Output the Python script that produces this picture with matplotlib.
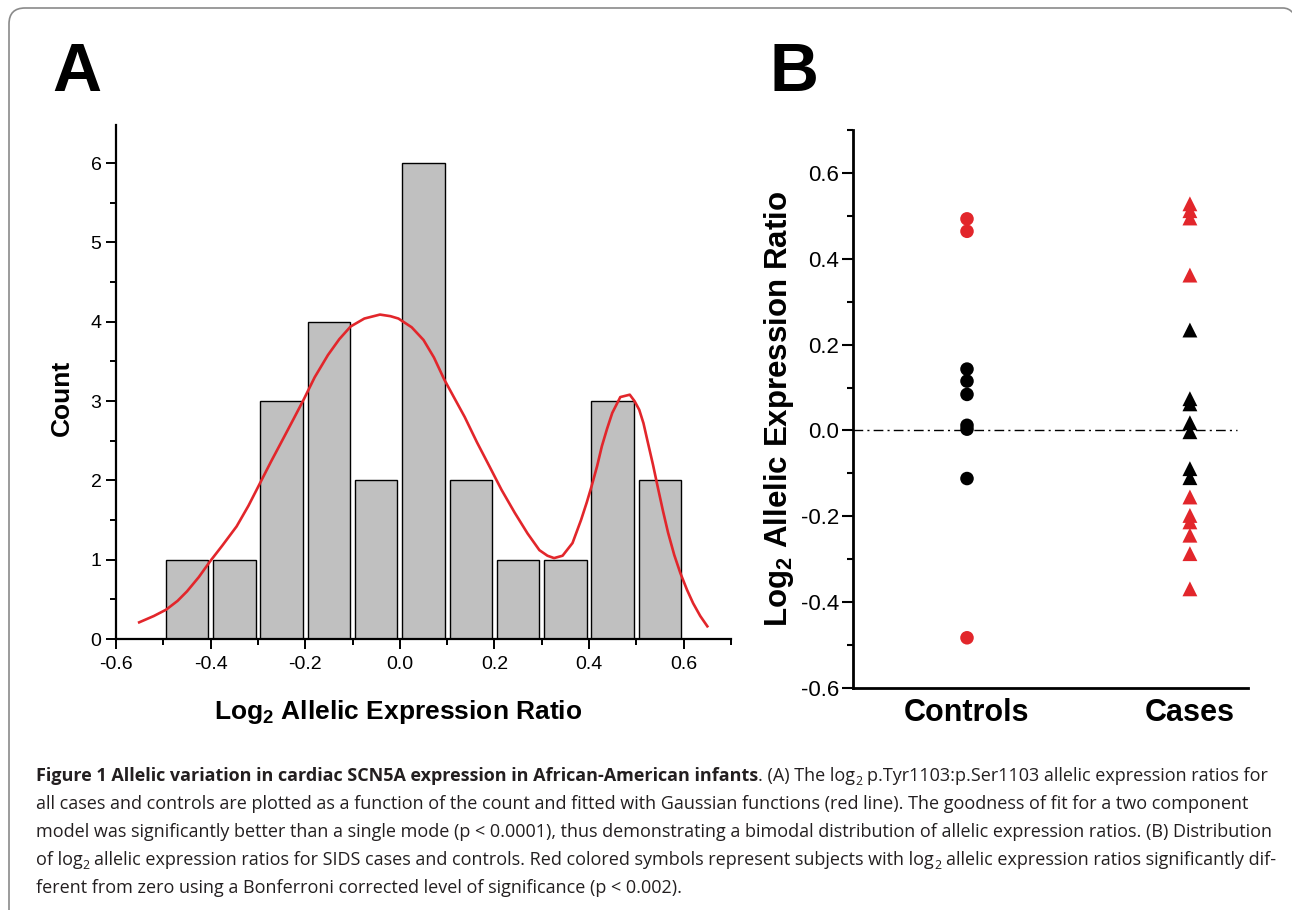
import matplotlib
matplotlib.use('Agg')
import matplotlib.pyplot as plt
from matplotlib.path import Path
from matplotlib.patches import PathPatch
from matplotlib.ticker import FixedLocator, FormatStrFormatter

plt.rcParams['font.family'] = ['Liberation Sans', 'DejaVu Sans']
plt.rcParams['axes.unicode_minus'] = False
plt.rcParams['mathtext.fontset'] = 'custom'
plt.rcParams['mathtext.rm'] = 'Liberation Sans'
plt.rcParams['mathtext.bf'] = 'Liberation Sans:bold'

# ---------------- Panel A data ----------------
bin_centers = [-0.45, -0.35, -0.25, -0.15, -0.05, 0.05, 0.15, 0.25, 0.35, 0.45, 0.55]
bin_counts = [1, 1, 3, 4, 2, 6, 2, 1, 1, 3, 2]
fit_x = [-0.551, -0.520, -0.494, -0.470, -0.450, -0.425, -0.401, -0.375, -0.345, -0.320,
         -0.296, -0.272, -0.248, -0.225, -0.204, -0.180, -0.152, -0.128, -0.104, -0.075,
         -0.042, -0.020, -0.003, 0.025, 0.050, 0.072, 0.094, 0.115, 0.137, 0.163,
         0.190, 0.215, 0.243, 0.270, 0.295, 0.312, 0.326, 0.344, 0.365, 0.383,
         0.395, 0.405, 0.417, 0.427, 0.438, 0.449, 0.466, 0.486, 0.496, 0.506,
         0.515, 0.523, 0.535, 0.545, 0.556, 0.567, 0.580, 0.593, 0.607, 0.620,
         0.635, 0.650]
fit_y = [0.21, 0.29, 0.37, 0.48, 0.60, 0.78, 0.98, 1.18, 1.42, 1.68,
         1.96, 2.24, 2.51, 2.77, 3.01, 3.30, 3.58, 3.78, 3.94, 4.04,
         4.09, 4.07, 4.04, 3.93, 3.77, 3.55, 3.27, 3.04, 2.80, 2.48,
         2.17, 1.88, 1.59, 1.33, 1.12, 1.05, 1.02, 1.05, 1.21, 1.50,
         1.72, 1.92, 2.18, 2.43, 2.65, 2.85, 3.05, 3.08, 3.00, 2.89,
         2.72, 2.51, 2.20, 1.92, 1.62, 1.34, 1.06, 0.83, 0.62, 0.45,
         0.29, 0.16]
a_xticks = [-0.6, -0.4, -0.2, 0.0, 0.2, 0.4, 0.6]
a_yticks = [0, 1, 2, 3, 4, 5, 6]

# ---------------- Panel B data ----------------
group_names = ['Controls', 'Cases']
controls_sig = [0.493, 0.464, -0.483]
controls_ns = [0.143, 0.115, 0.084, 0.012, 0.003, -0.112]
cases_sig = [0.528, 0.512, 0.495, 0.362, -0.155, -0.198, -0.213, -0.244, -0.287, -0.369]
cases_ns = [0.234, 0.074, 0.062, 0.018, -0.003, -0.089, -0.110]
b_yticks = [-0.6, -0.4, -0.2, 0.0, 0.2, 0.4, 0.6]

RED = '#e2262b'
W, H = 1292, 910
fig = plt.figure(figsize=(W / 100, H / 100), dpi=100)
fig.patch.set_facecolor('white')


def px_rect(left, top, right, bottom):
    return [left / W, 1 - bottom / H, (right - left) / W, (bottom - top) / H]


# ---------------- Panel A ----------------
axA = fig.add_axes(px_rect(116, 125, 731, 639))
axA.bar(bin_centers, bin_counts, width=0.09, color='#c0c0c0', edgecolor='black',
        linewidth=1.0, zorder=2)
axA.plot(fit_x, fit_y, color=RED, lw=1.9, zorder=3, solid_joinstyle='round')
axA.set_xlim(-0.6, 0.7)
axA.set_ylim(0, 6.48)
for s in ['top', 'right']:
    axA.spines[s].set_visible(False)
for s in ['left', 'bottom']:
    axA.spines[s].set_linewidth(1.6)
axA.set_xticks(a_xticks)
axA.xaxis.set_major_formatter(FormatStrFormatter('%.1f'))
axA.xaxis.set_minor_locator(FixedLocator([-0.5, -0.3, -0.1, 0.1, 0.3, 0.5, 0.7]))
axA.set_yticks(a_yticks)
axA.yaxis.set_minor_locator(FixedLocator([0.5, 1.5, 2.5, 3.5, 4.5, 5.5]))
axA.tick_params(axis='both', which='major', direction='out', length=7, width=1.4,
                labelsize=14)
axA.tick_params(axis='both', which='minor', direction='out', length=4, width=1.4)
axA.tick_params(axis='x', which='major', pad=5)
axA.tick_params(axis='y', which='major', pad=3.5)
axA.set_xlabel(r'Log$_\mathbf{2}$ Allelic Expression Ratio', fontsize=19,
               fontweight='bold', va='center')
axA.xaxis.set_label_coords(0.4585, -0.142)
axA.set_ylabel('Count', fontsize=19, fontweight='bold', va='center')
axA.yaxis.set_label_coords(-0.088, 0.469)

# ---------------- Panel B ----------------
axB = fig.add_axes(px_rect(853, 130, 1248, 688))
pos = [1, 2]
axB.scatter([pos[0]] * len(controls_ns), controls_ns, marker='o', s=95, color='black',
            edgecolors='none', zorder=3)
axB.scatter([pos[0]] * len(controls_sig), controls_sig, marker='o', s=95, color=RED,
            edgecolors='none', zorder=3)
axB.scatter([pos[1]] * len(cases_ns), cases_ns, marker='^', s=115, color='black',
            edgecolors='none', zorder=3)
axB.scatter([pos[1]] * len(cases_sig), cases_sig, marker='^', s=115, color=RED,
            edgecolors='none', zorder=3)
axB.axhline(0, xmin=0, xmax=0.972, color='black', lw=1.0, ls=(0, (7, 3, 1.5, 3)), zorder=1)
axB.set_xlim(0.4886, 2.2606)
axB.set_ylim(-0.6, 0.7)
for s in ['top', 'right']:
    axB.spines[s].set_visible(False)
for s in ['left', 'bottom']:
    axB.spines[s].set_linewidth(2.0)
axB.set_xticks(pos)
axB.set_xticklabels(group_names, fontsize=22, fontweight='bold')
axB.tick_params(axis='x', which='both', length=0, pad=7)
axB.set_yticks(b_yticks)
axB.yaxis.set_major_formatter(FormatStrFormatter('%.1f'))
axB.yaxis.set_minor_locator(FixedLocator([-0.5, -0.3, -0.1, 0.1, 0.3, 0.5, 0.7]))
axB.tick_params(axis='y', which='major', direction='out', length=8, width=1.5,
                labelsize=16, pad=2)
axB.tick_params(axis='y', which='minor', direction='out', length=4, width=1.5)
axB.set_ylabel(r'Log$_\mathbf{2}$ Allelic Expression Ratio', fontsize=22.5,
               fontweight='bold', va='center')
axB.yaxis.set_label_coords(-0.187, 0.5)

# ---------------- Panel letters ----------------
fig.text(52 / W, 1 - 91 / H, 'A', fontsize=49, fontweight='bold', ha='left', va='baseline')
fig.text(770 / W, 1 - 91 / H, 'B', fontsize=49, fontweight='bold', ha='left', va='baseline')

# ---------------- Frame ----------------
frame_pts = [(9, 912), (9, 24), (9, 8), (25, 8), (1283, 8), (1289, 8), (1293, 13)]
frame_codes = [Path.MOVETO, Path.LINETO, Path.CURVE3, Path.CURVE3, Path.LINETO,
               Path.CURVE3, Path.CURVE3]
fp = Path([(x / W, 1 - y / H) for x, y in frame_pts], frame_codes)
fig.patches.append(PathPatch(fp, transform=fig.transFigure, fill=False,
                             edgecolor='#8a8a8a', lw=1.2))

# ---------------- Caption ----------------
CAP_FONT = ['Open Sans', 'DejaVu Sans']
CAP_COLOR = '#231f20'
renderer = fig.canvas.get_renderer()

caption_lines = [
    [("Figure 1 Allelic variation in cardiac SCN5A expression in African-American infants", 'b'),
     (". (A) The log", 'r'), ("2", 's'), (" ", 'sp'),
     ("p.Tyr1103:p.Ser1103 allelic expression ratios for", 'r')],
    [("all cases and controls are plotted as a function of the count and fitted with Gaussian functions (red line). The goodness of fit for a two component", 'r')],
    [("model was significantly better than a single mode (p < 0.0001), thus demonstrating a bimodal distribution of allelic expression ratios. (B) Distribution", 'r')],
    [("of log", 'r'), ("2", 's'), (" ", 'sp'),
     ("allelic expression ratios for SIDS cases and controls. Red colored symbols represent subjects with log", 'r'),
     ("2", 's'), (" ", 'sp'), ("allelic expression ratios significantly dif-", 'r')],
    [("ferent from zero using a Bonferroni corrected level of significance (p < 0.002).", 'r')],
]
caption_baselines = [781, 809, 837, 865, 893]
CAP_X0 = 36
CAP_X1 = 1272


def measure(s, size, weight='normal'):
    t = fig.text(0, 0, s, fontsize=size, fontweight=weight, family=CAP_FONT, parse_math=False)
    w = t.get_window_extent(renderer).width
    t.remove()
    return w


def line_width(runs, size):
    sp = measure('n n', size) - measure('nn', size)
    total = 0
    for s, kind in runs:
        if kind == 'sp':
            total += sp
        elif kind == 's':
            total += measure(s, size * 0.68)
        else:
            total += measure(s, size, 'bold' if kind == 'b' else 'normal')
    return total


base = 12.0
cap_size = base * (CAP_X1 - CAP_X0) / line_width(caption_lines[2], base)


def draw_line(runs, ybase, size):
    sp = measure('n n', size) - measure('nn', size)
    x = CAP_X0
    for s, kind in runs:
        if kind == 'sp':
            x += sp
            continue
        if kind == 's':
            t = fig.text(x / W, 1 - (ybase + size * 0.30) / H, s, fontsize=size * 0.68,
                         family=CAP_FONT, color=CAP_COLOR, va='baseline', ha='left',
                         parse_math=False)
        else:
            t = fig.text(x / W, 1 - ybase / H, s, fontsize=size,
                         fontweight='bold' if kind == 'b' else 'normal',
                         family=CAP_FONT, color=CAP_COLOR, va='baseline', ha='left',
                         parse_math=False)
        x += t.get_window_extent(renderer).width


for runs, yb in zip(caption_lines, caption_baselines):
    draw_line(runs, yb, cap_size)

fig.savefig('out.png', dpi=100, facecolor='white')
